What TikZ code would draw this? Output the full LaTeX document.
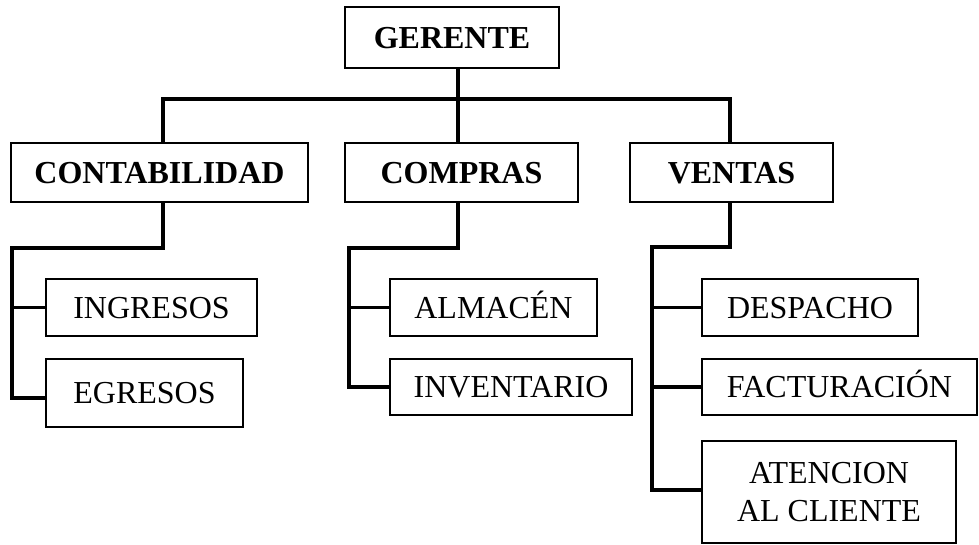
\documentclass[tikz,border=0pt]{standalone}
\usepackage{fontspec}
\setmainfont{Liberation Serif}
\usepackage{tikz}
\usetikzlibrary{calc}
\tikzset{
  caja/.style={draw=black, line width=1.3pt, inner sep=0pt, align=center,
    font=\fontsize{24}{29}\selectfont},
  area/.style={caja, text height=16pt, text depth=0pt},
  jefe/.style={area, font=\fontsize{24}{29}\selectfont\bfseries},
  sz/.style 2 args={minimum width=#1*0.75pt, minimum height=#2*0.75pt},
  con/.style={draw=black, line width=2.3pt, line cap=rect}
}

\begin{document}
\begin{tikzpicture}[x=0.75pt, y=-0.75pt]
  \useasboundingbox (0,0) rectangle (979,545);
  % cabeza y departamentos
  \node[jefe, sz={214}{61}] (ger) at (452,37.5) {GERENTE};
  \node[jefe, sz={297}{59}] (cont) at (159.5,172.5) {CONTABILIDAD};
  \node[jefe, sz={233}{59}] (comp) at (461.5,172.5) {COMPRAS};
  \node[jefe, sz={203}{59}] (vent) at (731.5,172.5) {VENTAS};
  % secciones
  \node[area, sz={211}{57}] (ing) at (151.5,307.5) {INGRESOS};
  \node[area, sz={197}{68}] (egr) at (144.5,393) {EGRESOS};
  \node[area, sz={207}{57}] (alm) at (493.5,307.5) {ALMACÉN};
  \node[area, sz={242}{56}] (inv) at (511,387) {INVENTARIO};
  \node[area, sz={216}{57}] (desp) at (810,307.5) {DESPACHO};
  \node[area, sz={275}{56}] (fact) at (839.5,387) {FACTURACIÓN};
  \node[caja, sz={254}{102}] (aten) at (829,492) {ATENCION\\AL CLIENTE};
  % lineas
  \coordinate (bar) at (458,99);
  \coordinate (cl) at (12,248);
  \coordinate (pl) at (349,248);
  \coordinate (vl) at (652,247);
  \draw[con] (bar |- ger.south) -- (bar |- comp.north);
  \draw[con] ($(cont.north)+(3.5,0)$) |- (bar) -| ($(vent.north)+(-1.5,0)$);
  \draw[con] ($(cont.south)+(3.5,0)$) |- (cl) |- ($(egr.west)+(0,5)$);
  \draw[con] (cl |- ing.west) -- (ing.west);
  \draw[con] ($(comp.south)+(-3.5,0)$) |- (pl) |- (inv.west);
  \draw[con] (pl |- alm.west) -- (alm.west);
  \draw[con] ($(vent.south)+(-1.5,0)$) |- (vl) |- ($(aten.west)+(0,-2)$);
  \draw[con] (vl |- desp.west) -- (desp.west);
  \draw[con] (vl |- fact.west) -- (fact.west);
\end{tikzpicture}
\end{document}
